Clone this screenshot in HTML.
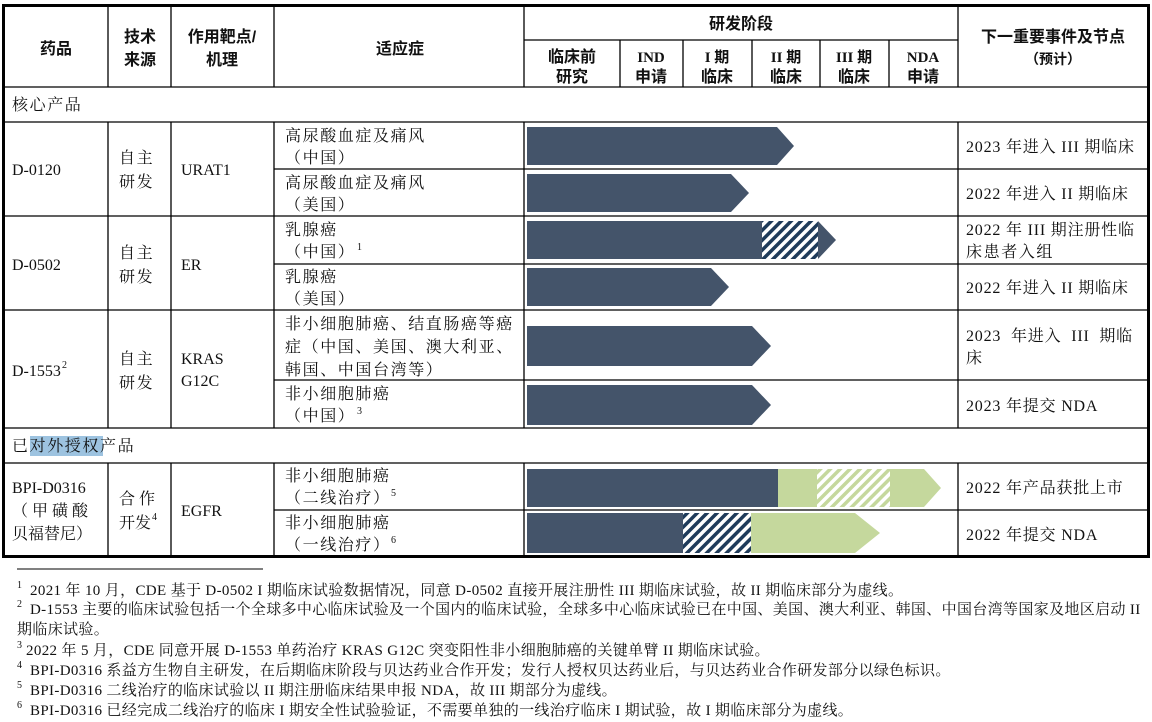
<!DOCTYPE html>
<html><head><meta charset="utf-8"><style>
html,body{margin:0;padding:0;background:#fff;width:1152px;height:722px;overflow:hidden}
svg{display:block}
.s{font-family:"Liberation Serif","Noto Serif CJK SC",serif;font-size:16px;fill:#111;letter-spacing:1.6px}
.l{font-family:"Liberation Serif","Noto Serif CJK SC",serif;font-size:16px;fill:#111}
.m{font-family:"Liberation Serif","Noto Serif CJK SC",serif;font-size:16px;fill:#111;letter-spacing:0.8px}
.h{font-family:"Liberation Sans","Noto Sans CJK SC",sans-serif;font-size:16px;font-weight:bold;fill:#111}
.hs{font-family:"Liberation Serif","Noto Sans CJK SC",serif;font-size:15px;font-weight:bold;fill:#111}
.f{font-family:"Liberation Serif","Noto Serif CJK SC",serif;font-size:15px;fill:#111;letter-spacing:0.35px}
.sup{font-family:"Liberation Serif",serif;font-size:10px;fill:#111}
</style></head><body>
<svg width="1152" height="722" xmlns="http://www.w3.org/2000/svg">
<defs>
<pattern id="hd" width="7" height="7" patternUnits="userSpaceOnUse" patternTransform="rotate(45)">
<rect width="7" height="7" fill="#fff"/><rect width="3.5" height="7" fill="#1f3b5a"/></pattern>
<pattern id="hg" width="7" height="7" patternUnits="userSpaceOnUse" patternTransform="rotate(45)">
<rect width="7" height="7" fill="#fff"/><rect width="3.5" height="7" fill="#c5d89d"/></pattern>
</defs>
<g stroke="#000" stroke-width="1.3" fill="none">
<line x1="108" y1="5" x2="108" y2="87"/><line x1="108" y1="122" x2="108" y2="428"/><line x1="108" y1="463" x2="108" y2="557"/>
<line x1="171" y1="5" x2="171" y2="87"/><line x1="171" y1="122" x2="171" y2="428"/><line x1="171" y1="463" x2="171" y2="557"/>
<line x1="274" y1="5" x2="274" y2="87"/><line x1="274" y1="122" x2="274" y2="428"/><line x1="274" y1="463" x2="274" y2="557"/>
<line x1="524" y1="5" x2="524" y2="87"/><line x1="524" y1="122" x2="524" y2="428"/><line x1="524" y1="463" x2="524" y2="557"/>
<line x1="958" y1="5" x2="958" y2="87"/><line x1="958" y1="122" x2="958" y2="428"/><line x1="958" y1="463" x2="958" y2="557"/>
<line x1="620" y1="40" x2="620" y2="87"/><line x1="683" y1="40" x2="683" y2="87"/><line x1="752" y1="40" x2="752" y2="87"/><line x1="820" y1="40" x2="820" y2="87"/><line x1="889" y1="40" x2="889" y2="87"/>
<line x1="524" y1="40" x2="958" y2="40"/>
<line x1="3" y1="87" x2="1149" y2="87"/>
<line x1="3" y1="122" x2="1149" y2="122"/>
<line x1="274" y1="169" x2="1149" y2="169"/>
<line x1="3" y1="216" x2="1149" y2="216"/>
<line x1="274" y1="264" x2="1149" y2="264"/>
<line x1="3" y1="310" x2="1149" y2="310"/>
<line x1="274" y1="380" x2="1149" y2="380"/>
<line x1="3" y1="428" x2="1149" y2="428"/>
<line x1="3" y1="463" x2="1149" y2="463"/>
<line x1="274" y1="510" x2="1149" y2="510"/>
<line x1="17" y1="569" x2="263" y2="569" stroke-width="1"/>
</g>
<rect x="3.5" y="5.5" width="1145" height="551" fill="none" stroke="#000" stroke-width="3"/>
<g fill="#44546a">
<polygon points="527,127 777,127 794,146 777,165 527,165"/>
<polygon points="527,174 731,174 749,193 731,212 527,212"/>
<polygon points="527,221 762,221 762,259 527,259"/>
<polygon points="818,221 836,240 818,259"/>
<polygon points="527,268 711,268 729,287 711,306 527,306"/>
<polygon points="527,326 752,326 771,346 752,366 527,366"/>
<polygon points="527,385 752,385 771,405 752,425 527,425"/>
<rect x="527" y="469" width="251" height="38"/>
<rect x="527" y="513" width="156" height="40"/>
</g>
<rect x="762" y="221" width="56" height="38" fill="url(#hd)"/>
<rect x="778" y="469" width="39" height="38" fill="#c5d89d"/>
<rect x="817" y="469" width="73" height="38" fill="url(#hg)"/>
<polygon points="890,469 924,469 941,488 924,507 890,507" fill="#c5d89d"/>
<rect x="683" y="513" width="68" height="40" fill="url(#hd)"/>
<polygon points="751,513 855,513 880,533 855,553 751,553" fill="#c5d89d"/>
<text class="h" x="56" y="54" text-anchor="middle">药品</text>
<text class="h" x="140" y="42" text-anchor="middle">技术</text>
<text class="h" x="140" y="65" text-anchor="middle">来源</text>
<text class="h" x="222" y="42" text-anchor="middle">作用靶点/</text>
<text class="h" x="222" y="65" text-anchor="middle">机理</text>
<text class="h" x="400" y="54" text-anchor="middle">适应症</text>
<text class="h" x="741" y="29" text-anchor="middle">研发阶段</text>
<text class="h" x="572" y="62" text-anchor="middle">临床前</text>
<text class="h" x="572" y="82" text-anchor="middle">研究</text>
<text class="hs" x="651" y="62" text-anchor="middle">IND</text>
<text class="h" x="651" y="82" text-anchor="middle">申请</text>
<text class="hs" x="717" y="62" text-anchor="middle">I 期</text>
<text class="h" x="717" y="82" text-anchor="middle">临床</text>
<text class="hs" x="786" y="62" text-anchor="middle">II 期</text>
<text class="h" x="786" y="82" text-anchor="middle">临床</text>
<text class="hs" x="854" y="62" text-anchor="middle">III 期</text>
<text class="h" x="854" y="82" text-anchor="middle">临床</text>
<text class="hs" x="923" y="62" text-anchor="middle">NDA</text>
<text class="h" x="923" y="82" text-anchor="middle">申请</text>
<text class="h" x="1053" y="42" text-anchor="middle">下一重要事件及节点</text>
<text class="h" x="1053" y="64" text-anchor="middle" style="font-size:14px">（预计）</text>
<text class="s" x="12" y="110">核心产品</text>
<text class="l" x="12" y="175">D-0120</text>
<text class="s" x="119" y="163">自主</text><text class="s" x="119" y="187">研发</text>
<text class="l" x="181" y="175">URAT1</text>
<text class="s" x="285" y="141">高尿酸血症及痛风</text><text class="s" x="285" y="163">（中国）</text>
<text class="s" x="285" y="188">高尿酸血症及痛风</text><text class="s" x="285" y="210">（美国）</text>
<text class="m" x="966" y="152">2023 年进入 III 期临床</text>
<text class="m" x="966" y="199">2022 年进入 II 期临床</text>
<text class="l" x="12" y="270">D-0502</text>
<text class="s" x="119" y="258">自主</text><text class="s" x="119" y="282">研发</text>
<text class="l" x="181" y="270">ER</text>
<text class="s" x="285" y="235">乳腺癌</text><text class="s" x="285" y="257">（中国）</text><text class="sup" x="357" y="250">1</text>
<text class="s" x="285" y="282">乳腺癌</text><text class="s" x="285" y="304">（美国）</text>
<text class="m" x="966" y="235">2022 年 III 期注册性临</text>
<text class="s" x="966" y="257">床患者入组</text>
<text class="m" x="966" y="293">2022 年进入 II 期临床</text>
<text class="l" x="12" y="376">D-1553</text><text class="sup" x="62" y="368">2</text>
<text class="s" x="119" y="364">自主</text><text class="s" x="119" y="388">研发</text>
<text class="l" x="181" y="364">KRAS</text><text class="l" x="181" y="386">G12C</text>
<text class="s" x="285" y="329">非小细胞肺癌、结直肠癌等癌</text>
<text class="s" x="285" y="352">症（中国、美国、澳大利亚、</text>
<text class="s" x="285" y="375">韩国、中国台湾等）</text>
<text class="s" x="285" y="399">非小细胞肺癌</text><text class="s" x="285" y="421">（中国）</text><text class="sup" x="357" y="414">3</text>
<text class="m" x="966" y="341" style="word-spacing:5px">2023 年进入 III 期临</text>
<text class="s" x="966" y="363">床</text>
<text class="m" x="966" y="411">2023 年提交 NDA</text>
<rect x="30" y="436" width="73" height="20" fill="#9dc3e0"/>
<text class="s" x="12" y="451">已对外授权产品</text>
<text class="l" x="12" y="493">BPI-D0316</text>
<text class="s" x="12" y="516" style="letter-spacing:0">（ 甲 磺 酸</text>
<text class="s" x="12" y="539" style="letter-spacing:0">贝福替尼）</text>
<text class="s" x="119" y="504" style="letter-spacing:0">合  作</text>
<text class="s" x="119" y="528" style="letter-spacing:0">开发</text><text class="sup" x="152" y="520">4</text>
<text class="l" x="181" y="516">EGFR</text>
<text class="s" x="285" y="481">非小细胞肺癌</text><text class="s" x="285" y="503">（二线治疗）</text><text class="sup" x="391" y="496">5</text>
<text class="s" x="285" y="528">非小细胞肺癌</text><text class="s" x="285" y="550">（一线治疗）</text><text class="sup" x="391" y="543">6</text>
<text class="m" x="966" y="493">2022 年产品获批上市</text>
<text class="m" x="966" y="540">2022 年提交 NDA</text>
<text class="sup" x="17" y="588">1</text><text class="f" x="30" y="595">2021 年 10 月，CDE 基于 D-0502 I 期临床试验数据情况，同意 D-0502 直接开展注册性 III 期临床试验，故 II 期临床部分为虚线。</text>
<text class="sup" x="17" y="607">2</text><text class="f" x="30" y="614">D-1553 主要的临床试验包括一个全球多中心临床试验及一个国内的临床试验，全球多中心临床试验已在中国、美国、澳大利亚、韩国、中国台湾等国家及地区启动 II</text>
<text class="f" x="17" y="634">期临床试验。</text>
<text class="sup" x="17" y="648">3</text><text class="f" x="26" y="655">2022 年 5 月，CDE 同意开展 D-1553 单药治疗 KRAS G12C 突变阳性非小细胞肺癌的关键单臂 II 期临床试验。</text>
<text class="sup" x="17" y="668">4</text><text class="f" x="30" y="675">BPI-D0316 系益方生物自主研发，在后期临床阶段与贝达药业合作开发；发行人授权贝达药业后，与贝达药业合作研发部分以绿色标识。</text>
<text class="sup" x="17" y="688">5</text><text class="f" x="30" y="695">BPI-D0316 二线治疗的临床试验以 II 期注册临床结果申报 NDA，故 III 期部分为虚线。</text>
<text class="sup" x="17" y="708">6</text><text class="f" x="30" y="715">BPI-D0316 已经完成二线治疗的临床 I 期安全性试验验证，不需要单独的一线治疗临床 I 期试验，故 I 期临床部分为虚线。</text>
</svg>
</body></html>
